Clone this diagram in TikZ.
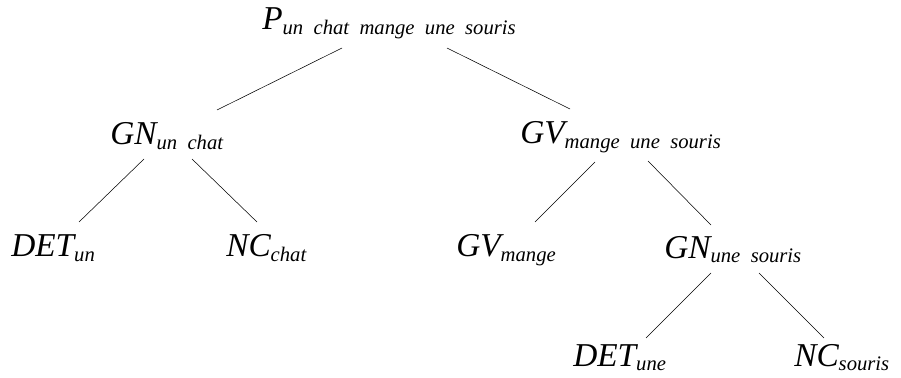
\documentclass[tikz,border=0pt]{standalone}
\usepackage{fontspec}
\newfontfamily\catfont{Liberation Serif}
\newcommand{\cat}[2]{{\catfont\fontsize{25}{28}\selectfont\itshape #1\raisebox{-3.5pt}{\fontsize{15.5}{18}\selectfont\spaceskip=0.5em #2}}}
\begin{document}
\begin{tikzpicture}[x=0.75pt,y=-0.75pt,
  cat/.style={inner sep=0,anchor=base west}]
\useasboundingbox (0,0) rectangle (901,378);
% nodes, by left edge and baseline
\node[cat](P)at(262,30){\cat{P}{un chat mange une souris}};
\node[cat](GN)at(110,145){\cat{GN}{un chat}};
\node[cat](GV)at(520,144){\cat{GV}{mange une souris}};
\node[cat](DETa)at(11,257){\cat{DET}{un}};
\node[cat](NCa)at(226,257){\cat{NC}{chat}};
\node[cat](GVm)at(456,257){\cat{GV}{mange}};
\node[cat](GNb)at(664,258){\cat{GN}{une souris}};
\node[cat](DETb)at(573,366){\cat{DET}{une}};
\node[cat](NCb)at(794,366){\cat{NC}{souris}};
% branches
\draw([shift={(80,18)}]P.base west)--([shift={(107,-35)}]GN.base west);
\draw([shift={(185,18)}]P.base west)--([shift={(50,-35)}]GV.base west);
\draw([shift={(34,14)}]GN.base west)--([shift={(68,-35)}]DETa.base west);
\draw([shift={(82,14)}]GN.base west)--([shift={(31,-35)}]NCa.base west);
\draw([shift={(75,18)}]GV.base west)--([shift={(79,-35)}]GVm.base west);
\draw([shift={(128,17)}]GV.base west)--([shift={(47,-33)}]GNb.base west);
\draw([shift={(47,15)}]GNb.base west)--([shift={(73,-28)}]DETb.base west);
\draw([shift={(95,15)}]GNb.base west)--([shift={(30,-28)}]NCb.base west);
\end{tikzpicture}
\end{document}
